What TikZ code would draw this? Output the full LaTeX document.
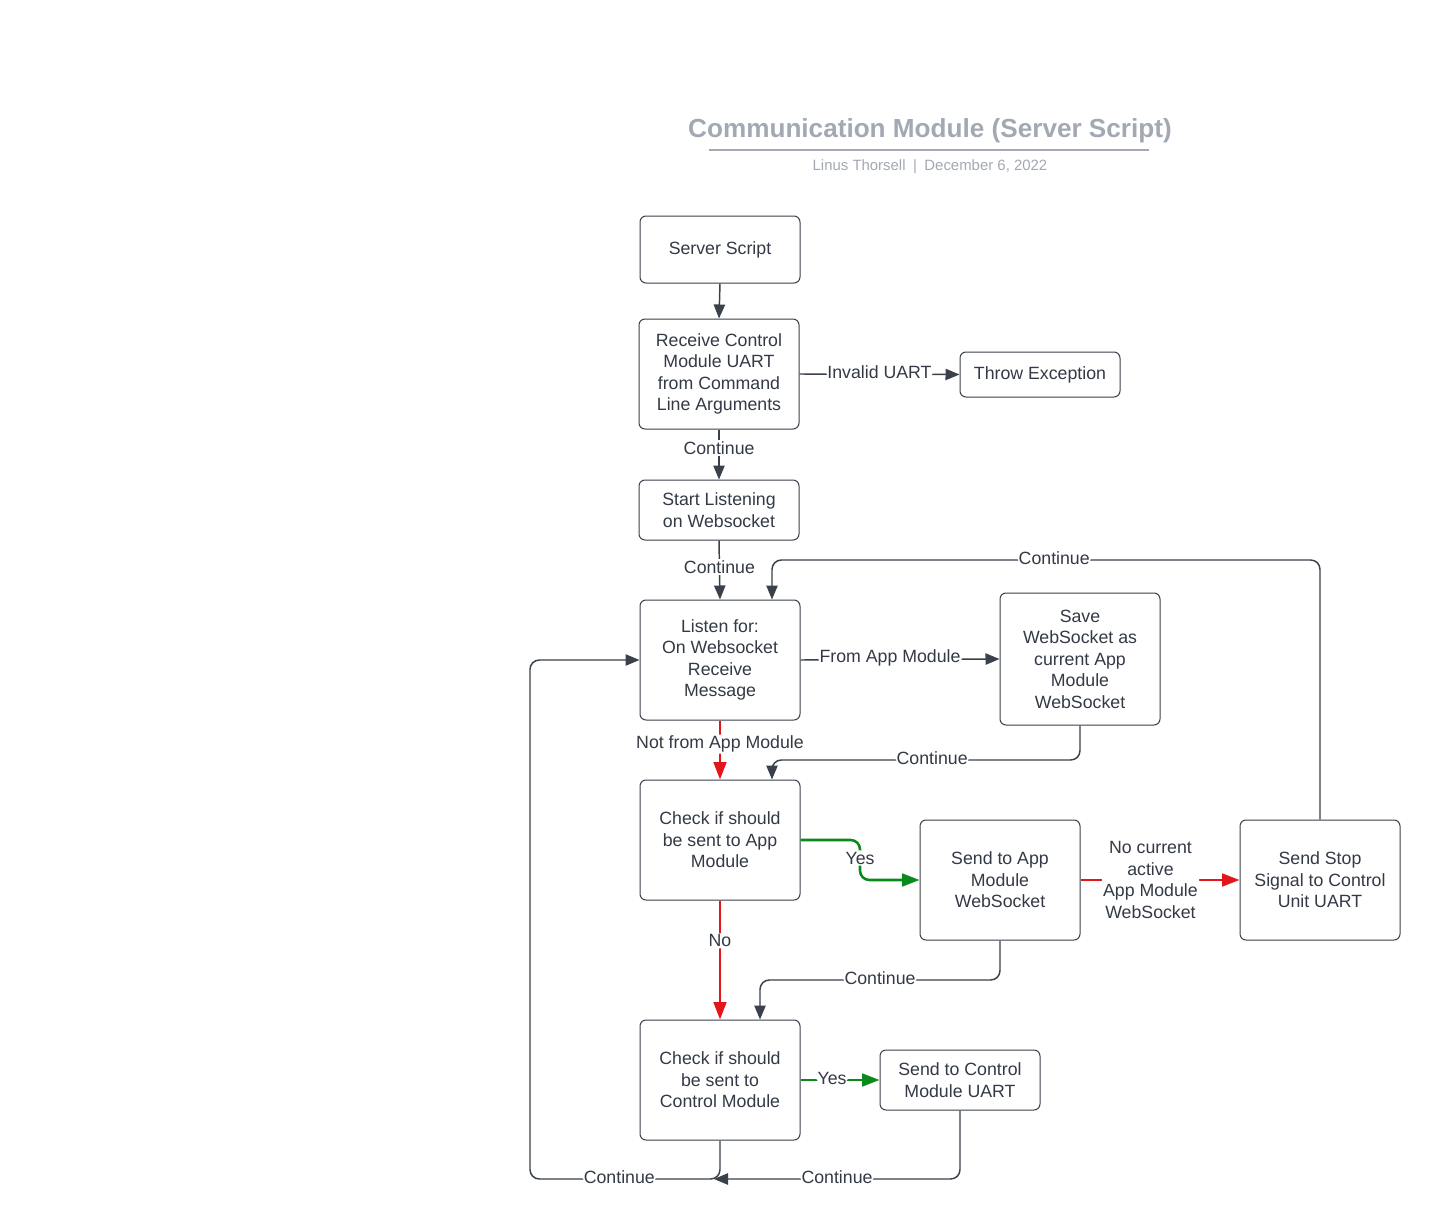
\documentclass[tikz,border=0pt]{standalone}
\usepackage{fontspec}
\setmainfont{Liberation Sans}
\usetikzlibrary{arrows.meta}
\definecolor{ink}{HTML}{333A45}
\definecolor{edgec}{HTML}{3A414A}
\definecolor{titlegray}{HTML}{A3A9B3}
\definecolor{redline}{HTML}{E3171B}
\definecolor{greenline}{HTML}{0A8A1A}
\begin{document}
\begin{tikzpicture}[x=0.75pt,y=-0.75pt,
  box/.style={draw=edgec, line width=0.75pt, rounded corners=4.5pt, minimum width=120pt, align=center, text=ink, font=\fontsize{13.3}{16.1}\selectfont, inner sep=2pt},
  conn/.style={draw=edgec, line width=1.1pt, -{Triangle[length=10.5pt,width=8.5pt]}, rounded corners=7pt},
  redconn/.style={draw=redline, line width=1.9pt, -{Triangle[length=13pt,width=9.5pt]}, rounded corners=7pt},
  greenconn/.style={redconn, draw=greenline},
  lbl/.style={fill=white, text=ink, font=\fontsize{13.3}{16.1}\selectfont, inner sep=1pt, align=center},
  hlbl/.style={lbl, yshift=1.5pt}
]
\fill[white] (0,0) rectangle (1440,1231);
\useasboundingbox (0,0) rectangle (1440,1231);

% title
\node[text=titlegray, font=\bfseries\fontsize{19.6}{23}\selectfont] (title) at (930,131) {Communication Module (Server Script)};
\draw[titlegray, line width=1.4pt] (709,150) coordinate (tl) -- (1149,150) coordinate (tr);
\node[text=titlegray, font=\fontsize{11.2}{13}\selectfont] (sub) at (930,166.5) {Linus Thorsell\enspace|\enspace December 6, 2022};

% nodes
\node[box, minimum height=50.25pt] (server) at (720,249.5) {Server Script};
\node[box, minimum height=82.5pt] (receive) at (719,374) {Receive Control\\Module UART\\from Command\\Line Arguments};
\node[box, minimum height=33.75pt] (throw) at (1040,374.5) {Throw Exception};
\node[box, minimum height=45pt] (start) at (719,510) {Start Listening\\on Websocket};
\node[box, minimum height=90pt] (listen) at (720,660) {Listen for:\\On Websocket\\Receive\\Message};
\node[box, minimum height=99pt] (save) at (1080,659) {Save\\WebSocket as\\current App\\Module\\WebSocket};
\node[box, minimum height=90pt] (checkapp) at (720,840) {Check if should\\be sent to App\\Module};
\node[box, minimum height=90pt] (sendapp) at (1000,880) {Send to App\\Module\\WebSocket};
\node[box, minimum height=90pt] (stop) at (1320,880) {Send Stop\\Signal to Control\\Unit UART};
\node[box, minimum height=90pt] (checkctl) at (720,1080) {Check if should\\be sent to\\Control Module};
\node[box, minimum height=45pt] (sendctl) at (960,1080) {Send to Control\\Module UART};
\coordinate (merge) at (714,1179);

% connectors
\draw[conn] (server.south) -- (receive.north);
\draw[conn] (receive.east) -- node[hlbl, pos=0.5] {Invalid UART} (throw.west);
\draw[conn] (receive.south) -- node[lbl, pos=0.37] {Continue} (start.north);
\draw[conn] (start.south) -- node[lbl, pos=0.45] {Continue} (listen.north);
\draw[conn] (listen.east) -- node[hlbl, pos=0.45] {From App Module} (save.west);
\draw[redconn] (listen.south) -- node[lbl, pos=0.4] {Not from App Module} (checkapp.north);
\draw[conn] (save.south) -- (1080,760) -- node[hlbl, pos=0.48] {Continue} (772,760) -- ([xshift=39pt]checkapp.north);
\draw[conn] (stop.north) -- (1320,560) -- node[hlbl, pos=0.485] {Continue} (772,560) -- ([xshift=39pt]listen.north);
\draw[greenconn] (checkapp.east) -- (860,840) -- node[lbl, pos=0.45] {Yes} (860,880) -- (sendapp.west);
\draw[redconn] (sendapp.east) -- node[lbl, pos=0.44] {No current\\active\\App Module\\WebSocket} (stop.west);
\draw[redconn] (checkapp.south) -- node[lbl, pos=0.34] {No} (checkctl.north);
\draw[conn] (sendapp.south) -- (1000,980) -- node[hlbl, pos=0.5] {Continue} (760,980) -- ([xshift=30pt]checkctl.north);
\draw[greenconn] (checkctl.east) -- node[hlbl, pos=0.4] {Yes} (sendctl.west);
\draw[conn] (sendctl.south) -- (960,1179) -- node[hlbl, pos=0.5] {Continue} (merge);
\draw[conn] (checkctl.south) -- (720,1179) -- node[hlbl, pos=0.53] {Continue} (530,1179) -- (530,660) -- (listen.west);
\end{tikzpicture}
\end{document}
